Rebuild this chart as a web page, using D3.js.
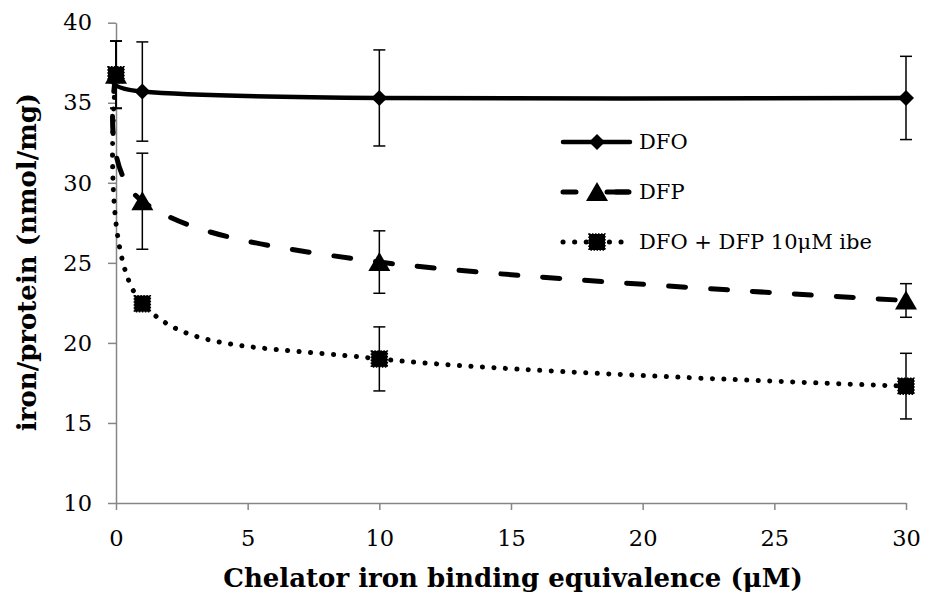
<!DOCTYPE html>
<html><head><meta charset="utf-8">
<script src="https://cdn.jsdelivr.net/npm/d3@7"></script>
<style>
html,body{margin:0;padding:0;background:#fff;}
svg{display:block;}
text{font-family:"DejaVu Serif",serif;fill:#000;}
</style></head>
<body><svg id="chart" width="930" height="597"></svg>
<script>
// ---- data ----
const xValues = [0, 1, 10, 30];
const dfoValues = [36.75, 35.7, 35.3, 35.3];
const dfoErrors = [2.1, 3.1, 3.0, 2.6];
const dfpValues = [36.75, 28.85, 25.05, 22.65];
const dfpErrors = [2.1, 3.0, 1.95, 1.05];
const comboValues = [36.75, 22.45, 19.0, 17.3];
const comboErrors = [2.1, 0.3, 2.0, 2.05];
const seriesNames = ["DFO", "DFP", "DFO + DFP 10\u03bcM ibe"];
const xTicks = [0, 5, 10, 15, 20, 25, 30];
const yTicks = [10, 15, 20, 25, 30, 35, 40];
const xTitle = "Chelator iron binding equivalence (\u03bcM)";
const yTitle = "iron/protein (nmol/mg)";

const series = [
  {name: seriesNames[0], values: dfoValues, errors: dfoErrors, marker: "diamond", dash: null, width: 4.5},
  {name: seriesNames[1], values: dfpValues, errors: dfpErrors, marker: "triangle", dash: "17,25", width: 5},
  {name: seriesNames[2], values: comboValues, errors: comboErrors, marker: "square", dash: "0.1,11.4", width: 5}
];

const svg = d3.select("#chart");
const x = d3.scaleLinear().domain([0, 30]).range([116, 906]);
const y = d3.scaleLinear().domain([10, 40]).range([503, 22.7]);
const axisColor = "#868686";

// axes
const gx = svg.append("g").attr("transform", `translate(0,${y(10)})`)
  .call(d3.axisBottom(x).tickValues(xTicks).tickSize(7).tickPadding(20).tickSizeOuter(0));
const gy = svg.append("g").attr("transform", `translate(${x(0)},0)`)
  .call(d3.axisLeft(y).tickValues(yTicks).tickSize(8).tickPadding(16).tickSizeOuter(0));
[gx, gy].forEach(g => {
  g.select(".domain").attr("stroke", axisColor).attr("stroke-width", 1.5);
  g.selectAll(".tick line").attr("stroke", axisColor).attr("stroke-width", 1.5);
  g.selectAll(".tick text").attr("font-family", "DejaVu Serif").attr("font-size", 22.5).attr("fill", "#000");
});

// titles
svg.append("text").attr("x", 513).attr("y", 587).attr("text-anchor", "middle")
  .attr("font-weight", "bold").attr("font-size", 26).text(xTitle);
svg.append("text").attr("transform", `translate(36,262) rotate(-90)`).attr("text-anchor", "middle")
  .attr("font-weight", "bold").attr("font-size", 26).text(yTitle);

function markerPath(type, s) {
  if (type === "diamond") return `M0,${-s}L${s},0L0,${s}L${-s},0Z`;
  if (type === "triangle") return `M0,${-s}L${s*1.1},${s*0.9}L${-s*1.1},${s*0.9}Z`;
  return `M${-s},${-s}H${s}V${s}H${-s}Z`;
}
function drawMarker(g, type, cx, cy) {
  const s = type === "diamond" ? 8 : (type === "triangle" ? 10 : 8);
  const p = g.append("path").attr("d", markerPath(type, s))
    .attr("transform", `translate(${cx},${cy})`).attr("fill", "#000");
  if (type === "square") p.attr("stroke", "#000").attr("stroke-width", 1.5).attr("stroke-dasharray", "1.5,1.5");
}

const line = d3.line().curve(d3.curveCardinal.tension(0)).x(d => x(d[0])).y(d => y(d[1]));

series.forEach(s => {
  const g = svg.append("g");
  const pts = xValues.map((xv, i) => [xv, s.values[i]]);
  const path = g.append("path").datum(pts).attr("d", line)
    .attr("fill", "none").attr("stroke", "#000").attr("stroke-width", s.width)
    .attr("stroke-linecap", s.dash ? "round" : "butt").attr("stroke-linejoin", "round");
  if (s.dash) path.attr("stroke-dasharray", s.dash);
  // error bars
  xValues.forEach((xv, i) => {
    const cx = x(xv), top = y(s.values[i] + s.errors[i]), bot = y(s.values[i] - s.errors[i]);
    g.append("line").attr("x1", cx).attr("x2", cx).attr("y1", top).attr("y2", bot).attr("stroke", "#000").attr("stroke-width", 1.5);
    [top, bot].forEach(yy => g.append("line").attr("x1", cx - 6).attr("x2", cx + 6).attr("y1", yy).attr("y2", yy).attr("stroke", "#000").attr("stroke-width", 1.5));
  });
  xValues.forEach((xv, i) => drawMarker(g, s.marker, x(xv), y(s.values[i])));
});

// legend
const legendRows = [142, 192, 242];
series.forEach((s, i) => {
  const g = svg.append("g").attr("transform", `translate(0,${legendRows[i]})`);
  const l = g.append("line").attr("x1", 563).attr("x2", 630).attr("y1", 0).attr("y2", 0)
    .attr("stroke", "#000").attr("stroke-width", s.width).attr("stroke-linecap", "round");
  if (i === 1) l.attr("stroke-dasharray", "13,40");
  if (i === 2) l.attr("stroke-dasharray", "0.1,11.5");
  if (i === 1) g.append("line").attr("x1", 607).attr("x2", 628).attr("y1", 0).attr("y2", 0)
    .attr("stroke", "#000").attr("stroke-width", s.width).attr("stroke-linecap", "round");
  drawMarker(g, s.marker, 597, 0);
  g.append("text").attr("x", 639).attr("y", 7).attr("font-size", 21).text(s.name);
});
</script></body></html>
